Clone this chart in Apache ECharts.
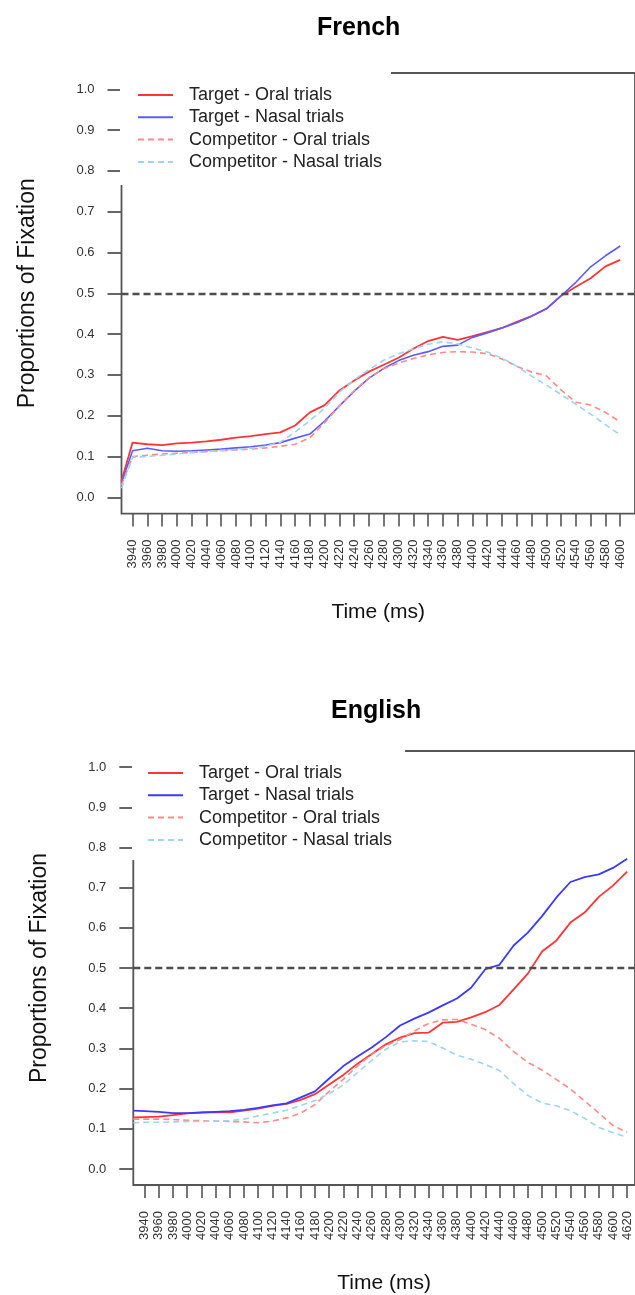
<!DOCTYPE html>
<html>
<head>
<meta charset="utf-8">
<script src="https://cdn.jsdelivr.net/npm/echarts@6/dist/echarts.min.js"></script>
<style>
html,body{margin:0;padding:0;background:#fff;}
#chart{width:635px;height:1295px;}
</style>
</head>
<body>
<div id="chart"></div>
<script>
// ---------- DATA ----------
const seriesNames = ['Target - Oral trials', 'Target - Nasal trials', 'Competitor - Oral trials', 'Competitor - Nasal trials'];
const yTicks = [0.0, 0.1, 0.2, 0.3, 0.4, 0.5, 0.6, 0.7, 0.8, 0.9, 1.0];
const xTicksFR = [3940,3960,3980,4000,4020,4040,4060,4080,4100,4120,4140,4160,4180,4200,4220,4240,4260,4280,4300,4320,4340,4360,4380,4400,4420,4440,4460,4480,4500,4520,4540,4560,4580,4600];
const xTicksEN = [3940,3960,3980,4000,4020,4040,4060,4080,4100,4120,4140,4160,4180,4200,4220,4240,4260,4280,4300,4320,4340,4360,4380,4400,4420,4440,4460,4480,4500,4520,4540,4560,4580,4600,4620];

// French
const timeFR = [3925,3940,3960,3980,4000,4020,4040,4060,4080,4100,4120,4140,4160,4180,4200,4220,4240,4260,4280,4300,4320,4340,4360,4380,4400,4420,4440,4460,4480,4500,4520,4540,4560,4580,4600];
const frTargetOral  = [0.04,0.134,0.13,0.128,0.132,0.134,0.137,0.141,0.146,0.15,0.155,0.159,0.176,0.208,0.226,0.262,0.286,0.308,0.325,0.342,0.364,0.383,0.393,0.386,0.395,0.405,0.415,0.43,0.444,0.462,0.494,0.516,0.537,0.566,0.582];
const frTargetNasal = [0.035,0.114,0.12,0.114,0.113,0.114,0.116,0.118,0.121,0.124,0.128,0.134,0.145,0.155,0.187,0.224,0.26,0.292,0.316,0.335,0.348,0.357,0.37,0.373,0.392,0.403,0.415,0.428,0.444,0.462,0.494,0.527,0.565,0.592,0.616];
const frCompOral    = [0.03,0.10,0.103,0.106,0.108,0.11,0.112,0.114,0.116,0.118,0.121,0.125,0.13,0.146,0.183,0.224,0.261,0.293,0.315,0.329,0.34,0.349,0.355,0.357,0.356,0.352,0.339,0.321,0.307,0.298,0.263,0.233,0.226,0.208,0.185];
const frCompNasal   = [0.022,0.098,0.1,0.103,0.106,0.109,0.112,0.115,0.117,0.12,0.125,0.135,0.16,0.188,0.218,0.258,0.288,0.313,0.336,0.352,0.364,0.375,0.381,0.376,0.366,0.356,0.341,0.321,0.297,0.275,0.252,0.228,0.204,0.178,0.153];

// English
const timeEN = [3924,3940,3960,3980,4000,4020,4040,4060,4080,4100,4120,4140,4160,4180,4200,4220,4240,4260,4280,4300,4320,4340,4360,4380,4400,4420,4440,4460,4480,4500,4520,4540,4560,4580,4600,4620];
const enTargetOral  = [0.128,0.129,0.13,0.134,0.138,0.141,0.141,0.141,0.145,0.15,0.157,0.162,0.172,0.186,0.21,0.234,0.262,0.286,0.31,0.327,0.338,0.339,0.364,0.366,0.377,0.39,0.408,0.447,0.486,0.541,0.568,0.613,0.638,0.677,0.705,0.74];
const enTargetNasal = [0.145,0.144,0.142,0.139,0.139,0.14,0.142,0.144,0.147,0.152,0.158,0.163,0.178,0.193,0.225,0.256,0.28,0.302,0.328,0.357,0.374,0.389,0.407,0.424,0.451,0.497,0.508,0.556,0.588,0.629,0.675,0.714,0.726,0.733,0.749,0.772];
const enCompOral    = [0.124,0.124,0.124,0.123,0.121,0.12,0.119,0.118,0.117,0.115,0.119,0.127,0.139,0.16,0.193,0.223,0.256,0.285,0.307,0.322,0.343,0.362,0.371,0.372,0.36,0.347,0.325,0.292,0.265,0.246,0.223,0.199,0.169,0.139,0.108,0.091];
const enCompNasal   = [0.115,0.116,0.116,0.117,0.118,0.118,0.119,0.12,0.124,0.132,0.139,0.146,0.158,0.17,0.187,0.209,0.24,0.27,0.298,0.316,0.319,0.317,0.301,0.283,0.273,0.26,0.245,0.212,0.183,0.164,0.157,0.145,0.126,0.103,0.09,0.079];

const refLevel = 0.5;

// ---------- CHART ----------
const FONT = 'Liberation Sans, Arial, sans-serif';
const chart = echarts.init(document.getElementById('chart'), null, {renderer: 'canvas'});
const pair = (t, v) => t.map((x, i) => [x, v[i]]);

const colOral = '#ff3535';
const colCompOral = '#ff8a8a';
const colCompNasal = '#9fd3f5';

function mkSeries(name, data, idx, color, width, dashed, withRef) {
  const s = {
    name: name, type: 'line', xAxisIndex: idx, yAxisIndex: idx,
    data: data, symbol: 'none', showSymbol: false, smooth: false,
    lineStyle: {color: color, width: width, type: dashed ? [6, 4] : 'solid'},
    itemStyle: {color: color},
    emphasis: {disabled: true}, silent: true, animation: false
  };
  if (withRef) {
    s.markLine = {
      silent: true, symbol: ['none', 'none'], label: {show: false}, animation: false,
      lineStyle: {color: '#4d4d4d', type: [7, 4], width: 2.4},
      data: [{yAxis: refLevel}]
    };
  }
  return s;
}

function mkX(idx, min, max, ticks) {
  return {
    type: 'value', gridIndex: idx, min: min, max: max,
    name: 'Time (ms)', nameLocation: 'middle', nameGap: 88,
    nameTextStyle: {fontSize: 21, color: '#111', fontFamily: FONT},
    axisLine: {show: false, onZero: false},
    splitLine: {show: false},
    axisTick: {show: true, inside: false, length: 13, customValues: ticks, lineStyle: {color: '#555', width: 1.6}},
    axisLabel: {show: true, customValues: ticks, rotate: 90, margin: 26, fontSize: 13, color: '#333', fontFamily: FONT,
      formatter: v => String(v)}
  };
}
function mkY(idx) {
  return {
    type: 'value', gridIndex: idx, min: -0.04, max: 1.04,
    name: 'Proportions of Fixation', nameLocation: 'middle', nameGap: 82,
    nameTextStyle: {fontSize: 23, color: '#111', fontFamily: FONT},
    axisLine: {show: false, onZero: false},
    splitLine: {show: false},
    axisTick: {show: true, inside: false, length: 14, customValues: yTicks, lineStyle: {color: '#555', width: 1.8}},
    axisLabel: {show: true, customValues: yTicks, margin: 27, fontSize: 13, color: '#333', fontFamily: FONT,
      formatter: v => Number(v).toFixed(1)}
  };
}
function mkLegend(left, top, names, padding) {
  return {
    orient: 'vertical', left: left, top: top,
    data: names,
    backgroundColor: '#ffffff', borderWidth: 0,
    padding: padding,
    itemWidth: 35, itemHeight: 12, itemGap: 4.3,
    selectedMode: false,
    itemStyle: {opacity: 0},
    textStyle: {fontSize: 18, lineHeight: 18, color: '#222', fontFamily: FONT, padding: [0, 0, 0, 11]}
  };
}

const enNames = seriesNames.map(n => n + ' ');

const option = {
  backgroundColor: '#ffffff',
  animation: false,
  title: [
    {text: 'French', left: 312, top: 11, textStyle: {fontSize: 25, fontWeight: 'bold', color: '#000', fontFamily: FONT}},
    {text: 'English', left: 326, top: 694, textStyle: {fontSize: 25, fontWeight: 'bold', color: '#000', fontFamily: FONT}}
  ],
  grid: [
    {left: 121.5, top: 73, right: -3, height: 440.6, show: true, borderColor: '#555', borderWidth: 1.8, backgroundColor: 'transparent'},
    {left: 133.3, top: 751, right: -3, height: 435.2, show: true, borderColor: '#555', borderWidth: 1.8, backgroundColor: 'transparent'}
  ],
  xAxis: [mkX(0, 3925, 4620, xTicksFR), mkX(1, 3924, 4631, xTicksEN)],
  yAxis: [mkY(0), mkY(1)],
  legend: [
    mkLegend(120, 71, seriesNames, [15, 9, 14, 17]),
    mkLegend(132, 750, enNames, [14, 8, 11, 15])
  ],
  series: [
    mkSeries(seriesNames[0], pair(timeFR, frTargetOral), 0, colOral, 1.8, false, true),
    mkSeries(seriesNames[1], pair(timeFR, frTargetNasal), 0, '#5b5bff', 1.6, false, false),
    mkSeries(seriesNames[2], pair(timeFR, frCompOral), 0, colCompOral, 1.6, true, false),
    mkSeries(seriesNames[3], pair(timeFR, frCompNasal), 0, colCompNasal, 1.6, true, false),
    mkSeries(enNames[0], pair(timeEN, enTargetOral), 1, colOral, 1.8, false, true),
    mkSeries(enNames[1], pair(timeEN, enTargetNasal), 1, '#3a3aff', 1.8, false, false),
    mkSeries(enNames[2], pair(timeEN, enCompOral), 1, colCompOral, 1.6, true, false),
    mkSeries(enNames[3], pair(timeEN, enCompNasal), 1, colCompNasal, 1.6, true, false)
  ]
};
chart.setOption(option);
</script>
</body>
</html>
